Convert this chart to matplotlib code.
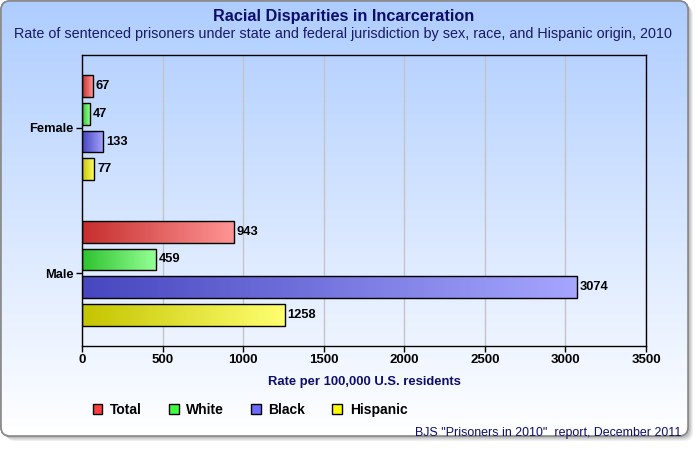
import matplotlib.pyplot as plt
import numpy as np
from matplotlib.colors import LinearSegmentedColormap
from matplotlib.patches import FancyBboxPatch, Patch

plt.rcParams['font.family'] = ['Liberation Sans', 'DejaVu Sans']

# data
groups = ["Female", "Male"]
series = ["Total", "White", "Black", "Hispanic"]
female_rates = [67, 47, 133, 77]
male_rates = [943, 459, 3074, 1258]
x_ticks = [0, 500, 1000, 1500, 2000, 2500, 3000, 3500]

legend_colors = ["#ff3f3f", "#3fff3f", "#6b6bff", "#ffff00"]
grad_start = ["#c62e2e", "#2ec22e", "#4646bf", "#c4c400"]
grad_end = ["#ff9494", "#94ff94", "#a6a6ff", "#ffff70"]

NAVY = "#0d0d6e"

fig = plt.figure(figsize=(7, 4.5), dpi=100)

# background: rounded panel with vertical gradient and soft shadow
bg = fig.add_axes([0, 0, 1, 1], zorder=-10)
bg.set_xlim(0, 700)
bg.set_ylim(450, 0)
bg.axis("off")
for k, a in enumerate([0.10, 0.15, 0.22]):
    off = 5 - k * 1.3
    bg.add_patch(FancyBboxPatch((1 + off, 1 + off), 687, 435,
                                boxstyle="round,pad=0,rounding_size=9",
                                fc="#666666", ec="none", alpha=a))
panel = FancyBboxPatch((1, 1), 687, 435, boxstyle="round,pad=0,rounding_size=9",
                       fc="white", ec="#8a8a8a", lw=1.2)
bg.add_patch(panel)
bg_cmap = LinearSegmentedColormap.from_list("bg", ["#aecdff", "#ffffff"])
im = bg.imshow(np.linspace(0, 1, 256)[:, None], cmap=bg_cmap, aspect="auto",
               extent=(1, 688, 436, 1), zorder=1)
im.set_clip_path(panel)
bg.add_patch(FancyBboxPatch((1, 1), 687, 435, boxstyle="round,pad=0,rounding_size=9",
                            fc="none", ec="#8a8a8a", lw=1.2, zorder=2))

# main plot
ax = fig.add_axes([82 / 700, 1 - 346 / 450, 564 / 700, 291 / 450])
ax.patch.set_alpha(0)

step = 0.19
bar_h = 0.15
for j, name in enumerate(series):
    vals = [female_rates[j], male_rates[j]]
    ys = [i + (j - 1.5) * step for i in range(len(groups))]
    bars = ax.barh(ys, vals, height=bar_h, facecolor="none", edgecolor="black",
                   linewidth=1.0, zorder=3)
    cmap = LinearSegmentedColormap.from_list(name, [grad_start[j], grad_end[j]])
    for bar, v, y in zip(bars, vals, ys):
        x0, y0 = bar.get_x(), bar.get_y()
        w, h = bar.get_width(), bar.get_height()
        g = ax.imshow(np.linspace(0, 1, 128)[None, :], cmap=cmap, aspect="auto",
                      extent=(x0, x0 + w, y0 + h, y0), zorder=2)
        g.set_clip_path(bar)
        ax.annotate(str(v), (v, y), xytext=(2, 0), textcoords="offset points",
                    va="center", ha="left", fontsize=9.3, fontweight="bold", zorder=4)

ax.set_xlim(0, 3500)
ax.set_ylim(1.5, -0.5)
ax.set_xticks(x_ticks)
ax.set_xticklabels([str(t) for t in x_ticks], fontsize=9.5, fontweight="bold")
ax.set_yticks(range(len(groups)))
ax.set_yticklabels(groups, fontsize=9.3, fontweight="bold")
ax.tick_params(length=4, width=1, pad=2)
ax.grid(axis="x", color="#c4c4c4", lw=1, zorder=0)
ax.set_axisbelow(True)
for s in ax.spines.values():
    s.set_color("black")
    s.set_linewidth(1)
ax.set_xlabel("Rate per 100,000 U.S. residents", fontsize=9.4, fontweight="bold",
              color=NAVY, labelpad=7)

# titles
fig.text(344 / 700, 1 - 16 / 450, "Racial Disparities in Incarceration", ha="center",
         va="center", fontsize=11.7, fontweight="bold", color=NAVY)
fig.text(343 / 700, 1 - 34 / 450,
         "Rate of sentenced prisoners under state and federal jurisdiction by sex, race, and Hispanic origin, 2010",
         ha="center", va="center", fontsize=10.4, color="#1a1a66")

# legend
handles = [Patch(facecolor=c, edgecolor="black", lw=1, label=n)
           for c, n in zip(legend_colors, series)]
fig.legend(handles=handles, loc="center left", bbox_to_anchor=(80 / 700, 1 - 410 / 450),
           ncol=4, frameon=False, handlelength=0.7, handleheight=0.7, handletextpad=0.55,
           columnspacing=1.95, prop={"weight": "bold", "size": 10})

fig.text(681 / 700, 1 - 433 / 450, 'BJS "Prisoners in 2010"  report, December 2011',
         ha="right", va="center", fontsize=8.9, color=NAVY)

fig.savefig("out.png", dpi=100)
